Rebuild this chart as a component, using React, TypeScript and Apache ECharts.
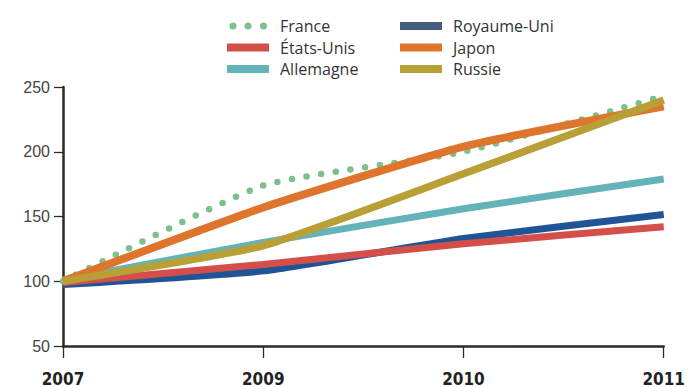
import React, { useEffect, useRef } from "react";
import * as echarts from "echarts";

const years = ["2007", "2009", "2010", "2011"];
const france = [100, 174, 200, 243];
const etatsUnis = [99, 113, 129, 142];
const allemagne = [101, 130, 156, 179];
const royaumeUni = [97.5, 108, 133, 151.5];
const japon = [100, 157, 204, 235];
const russie = [100, 127.5, 183, 240];

const C = {
  france: "#7cc08d",
  us: "#d44f4a",
  de: "#63b3b9",
  uk: "#1f5596",
  ukLegend: "#465d7f",
  jp: "#dd752d",
  ru: "#b89f36",
};

const dotsIcon =
  "path://M0,0 M2.5,4 a3.5,3.5 0 1,0 7,0 a3.5,3.5 0 1,0 -7,0 M17.5,4 a3.5,3.5 0 1,0 7,0 a3.5,3.5 0 1,0 -7,0 M33,4 a3.5,3.5 0 1,0 7,0 a3.5,3.5 0 1,0 -7,0 M42,8";

export default function App() {
  const ref = useRef<HTMLDivElement>(null);
  useEffect(() => {
    const chart = echarts.init(ref.current!, null, { renderer: "svg" });
    const legendText = {
      fontFamily: "Open Sans",
      fontSize: 16,
      color: "#333",
      lineHeight: 15,
      padding: [0, 0, 0, 6],
    };
    const lineSeries = (name: string, data: number[], color: string, width: number, extra: any = {}) => ({
      name,
      type: "line",
      data,
      symbol: "none",
      showSymbol: false,
      smooth: 0.15,
      lineStyle: { color, width, ...extra },
      itemStyle: { color },
    });
    chart.setOption({
      animation: false,
      backgroundColor: "#fff",
      grid: { left: 63, right: 16.5, top: 87, bottom: 40, containLabel: false },
      legend: [
        {
          orient: "vertical",
          left: 222,
          top: 13,
          itemWidth: 42,
          itemHeight: 8,
          itemGap: 5.5,
          textStyle: legendText,
          data: [
            { name: "France", icon: dotsIcon, itemStyle: { color: C.france } },
            { name: "États-Unis", icon: "rect", itemStyle: { color: C.us } },
            { name: "Allemagne", icon: "rect", itemStyle: { color: C.de } },
          ],
        },
        {
          orient: "vertical",
          left: 395,
          top: 13,
          itemWidth: 42,
          itemHeight: 8,
          itemGap: 5.5,
          textStyle: legendText,
          data: [
            { name: "Royaume-Uni", icon: "rect", itemStyle: { color: C.ukLegend } },
            { name: "Japon", icon: "rect", itemStyle: { color: C.jp } },
            { name: "Russie", icon: "rect", itemStyle: { color: C.ru } },
          ],
        },
      ],
      xAxis: {
        type: "category",
        data: years,
        boundaryGap: false,
        axisLine: { lineStyle: { color: "#2b2b2b", width: 2.5 } },
        axisTick: { length: 12, alignWithLabel: true, lineStyle: { color: "#2b2b2b", width: 1.3 } },
        axisLabel: {
          interval: 0,
          fontFamily: "DejaVu Sans Condensed",
          fontWeight: "bold",
          fontSize: 17,
          color: "#222",
          margin: 24,
        },
        splitLine: { show: false },
      },
      yAxis: {
        type: "value",
        min: 50,
        max: 250,
        interval: 50,
        axisLine: { show: true, lineStyle: { color: "#2b2b2b", width: 2.5 } },
        axisTick: { show: true, length: 9, lineStyle: { color: "#2b2b2b", width: 1.3 } },
        axisLabel: {
          fontFamily: "Liberation Sans",
          fontSize: 16,
          color: "#444",
          margin: 13,
        },
        splitLine: { show: false },
      },
      series: [
        lineSeries("Royaume-Uni", royaumeUni, C.uk, 7),
        lineSeries("États-Unis", etatsUnis, C.us, 7),
        lineSeries("Allemagne", allemagne, C.de, 7),
        lineSeries("France", france, C.france, 6.5, { type: [0, 14.8], cap: "round" }),
        lineSeries("Japon", japon, C.jp, 8),
        lineSeries("Russie", russie, C.ru, 7.5),
      ],
    });
    return () => chart.dispose();
  }, []);
  return (
    <div
      ref={ref}
      style={{ position: "fixed", left: 0, top: 0, width: 688, height: 387, background: "#fff" }}
    />
  );
}
